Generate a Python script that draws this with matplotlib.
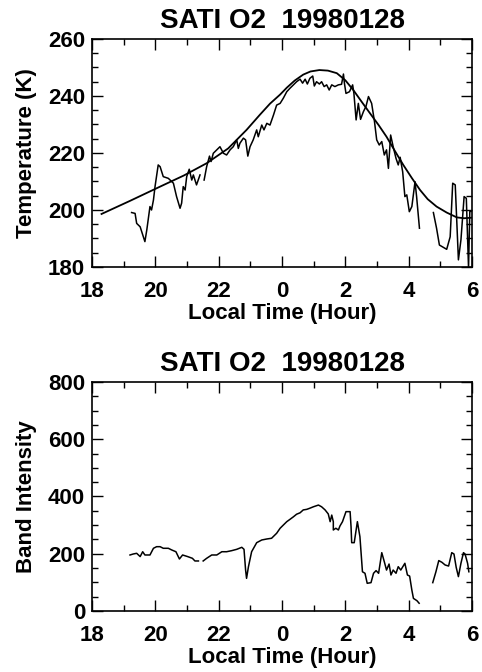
import matplotlib
matplotlib.use("Agg")
import matplotlib.pyplot as plt
import numpy as np
from matplotlib.ticker import MultipleLocator

# local time in hours after midnight of the first day (24 = 0 h, 30 = 6 h)
temp_time = [19.25, 19.36, 19.41, 19.52, 19.67, 19.73, 19.83, 19.88, 19.94, 19.99,
             20.09, 20.15, 20.25, 20.41, 20.57, 20.67, 20.78, 20.83, 20.88, 20.94,
             20.99, 21.07, 21.15, 21.2, 21.3, 21.41, np.nan,
             21.54, 21.62, 21.71, 21.76, 21.83, 21.94, 22.04, 22.15, 22.25, 22.36,
             22.46, 22.57, 22.62, 22.67, 22.78, 22.85, 22.92, 22.99, 23.09, 23.2,
             23.25, 23.36, 23.43, 23.52, 23.62, 23.73, 23.83, 23.94, 24.04, 24.15,
             24.25, 24.36, 24.46, 24.57, 24.65, 24.73, 24.8, 24.88, 24.97, 25.02,
             25.09, 25.18, 25.25, 25.33, 25.41, 25.49, 25.57, 25.67, 25.78, 25.88,
             25.94, 25.97, 26.02, 26.13, 26.23, 26.27, 26.34, 26.41, 26.48, 26.57,
             26.65, 26.73, 26.83, 26.92, 26.99, 27.07, 27.15, 27.23, 27.3, 27.36,
             27.43, 27.51, 27.6, 27.67, 27.73, 27.81, 27.88, 27.94, 28.02, 28.1,
             28.2, 28.25, 28.34, np.nan,
             28.78, 28.88, 28.97, 29.2, 29.31, 29.39, 29.47, 29.57, 29.65, 29.75,
             29.82, 29.89, 29.93, 30.0]
temp_vals = [199.1, 198.8, 195.3, 194.1, 188.9, 193.0, 201.2, 200.0, 203.5, 208.2,
             215.8, 215.2, 211.7, 211.1, 209.4, 204.7, 200.6, 202.4, 208.2, 207.0,
             211.7, 214.3, 210.5, 212.3, 208.8, 212.3, np.nan,
             210.5, 215.2, 218.9, 217.0, 219.9, 221.1, 222.2, 219.9, 219.3, 221.1,
             222.2, 224.6, 221.6, 223.4, 225.2, 224.6, 218.9, 222.2, 224.6, 228.1,
             225.7, 229.8, 228.1, 230.4, 229.8, 233.3, 236.8, 237.4, 239.2, 241.5,
             242.7, 243.9, 245.0, 245.9, 244.5, 245.9, 244.2, 246.2, 247.0, 243.5,
             245.0, 244.2, 245.0, 243.3, 243.9, 242.1, 243.9, 243.3, 243.9, 244.1,
             247.7, 244.5, 240.9, 241.5, 243.9, 240.9, 231.6, 237.4, 231.8, 234.5,
             236.3, 239.8, 237.4, 231.0, 224.6, 222.8, 224.0, 219.3, 221.1, 214.6,
             226.3, 222.2, 218.1, 215.8, 218.5, 213.4, 204.7, 205.3, 199.4, 201.2,
             209.9, 204.7, 193.6, np.nan,
             199.1, 193.6, 187.7, 186.2, 190.6, 209.4, 208.8, 182.5, 189.5, 204.7,
             204.1, 179.6, 199.5, 199.5]

fit_time = [18.3, 19.2, 20.15, 20.9, 21.62, 22.3, 22.88, 23.3, 23.62, 23.94, 24.15,
            24.4, 24.67, 24.9, 25.18, 25.45, 25.73, 26.0, 26.25, 26.5, 26.78, 27.05,
            27.3, 27.57, 27.83, 28.1, 28.36, 28.6, 28.88, 29.2, 29.52, 29.75, 30.0]
fit_vals = [198.6, 203.2, 208.2, 212.1, 216.4, 221.6, 228.1, 233.4, 237.3, 240.5, 242.9,
            245.4, 247.5, 248.6, 249.1, 248.9, 248.0, 245.5, 242.1, 238.2, 233.9, 229.8,
            225.7, 220.6, 215.8, 211.2, 207.0, 203.8, 201.2, 199.1, 197.4, 197.1, 197.3]

band_time = [19.2, 19.3, 19.41, 19.52, 19.6, 19.67, 19.83, 19.94, 20.04, 20.15, 20.25,
             20.41, 20.52, 20.65, 20.76, 20.86, 21.02, 21.17, 21.25, 21.36, np.nan,
             21.51, 21.62, 21.78, 21.94, 22.1, 22.25, 22.41, 22.57, 22.73, 22.8, 22.85,
             22.88, 22.94, 23.04, 23.2, 23.36, 23.52, 23.67, 23.83, 23.94, 24.04, 24.15,
             24.25, 24.36, 24.46, 24.57, 24.67, 24.78, 24.88, 24.99, 25.15, 25.25, 25.36,
             25.46, 25.52, 25.57, 25.62, 25.62, 25.7, 25.78, 25.83, 25.91, 26.02, 26.15,
             26.18, 26.2, 26.28, 26.38, 26.46, 26.54, 26.62, 26.69, 26.81, 26.89, 26.97,
             27.05, 27.15, 27.23, 27.3, 27.38, 27.44, 27.51, 27.6, 27.67, 27.75, 27.88,
             27.96, 28.03, 28.1, 28.15, 28.26, 28.33, np.nan,
             28.76, 28.86, 28.95, 29.05, 29.15, 29.26, 29.36, 29.43, 29.5, 29.57, 29.65,
             29.73, 29.78, 29.86, 29.9]
band_vals = [195.6, 199, 201.5, 190, 207, 195.6, 195.6, 219, 224.6, 224.6, 219,
             219, 213, 207, 181.6, 195.6, 190, 184, 174.7, 174.7, np.nan,
             174.7, 184, 195.6, 195.6, 207, 207, 210.7, 215.4, 222.4, 215.4, 143,
             114, 154.7, 207, 238.6, 248, 251.5, 254, 271.4, 289, 300, 312,
             320, 329, 338, 343, 353, 355, 359, 364, 370, 364, 353,
             339, 312, 335, 312, 283, 289, 283, 297, 312, 347, 347,
             294, 238.6, 238.6, 312, 259.5, 137, 131.7, 96.7, 99, 131.7, 141,
             131.7, 203.7, 172, 143, 164, 125.7, 143, 131.7, 154.7, 143, 166.6,
             125.7, 122, 73, 44, 36, 27, np.nan,
             99, 137, 176, 170, 160.7, 157, 203.7, 199, 152.6, 120, 166.6,
             203.7, 199, 166.6, 137]

xtick_pos = [18, 20, 22, 24, 26, 28, 30]
xtick_lab = ["18", "20", "22", "0", "2", "4", "6"]
title = "SATI O2  19980128"

plt.rcParams["font.family"] = ["Liberation Sans", "DejaVu Sans"]
plt.rcParams["font.weight"] = "bold"

fig = plt.figure(figsize=(4.82, 6.72), dpi=100)
ax1 = fig.add_axes([0.1909, 0.6027, 0.7884, 0.3393])
ax2 = fig.add_axes([0.1909, 0.0908, 0.7884, 0.3408])

fs = 16
for ax in (ax1, ax2):
    ax.set_xlim(18, 30)
    ax.set_xticks(xtick_pos)
    ax.set_xticklabels(xtick_lab, fontsize=fs, fontweight="bold")
    ax.xaxis.set_minor_locator(MultipleLocator(1))
    ax.tick_params(which="both", direction="in", top=True, right=True, width=1.0)
    ax.tick_params(which="major", length=8)
    ax.tick_params(axis="x", which="major", pad=10)
    ax.tick_params(axis="y", which="major", pad=5)
    ax.tick_params(which="minor", length=4)
    for s in ax.spines.values():
        s.set_linewidth(1.2)
    ax.set_xlabel("Local Time (Hour)", fontsize=fs, fontweight="bold", labelpad=1)
    ax.set_title(title, fontsize=20, fontweight="bold", pad=8)

ax1.plot(temp_time, temp_vals, color="black", lw=1.1)
ax1.plot(fit_time, fit_vals, color="black", lw=1.3)
ax1.set_ylim(180, 260)
ax1.set_yticks([180, 200, 220, 240, 260])
ax1.yaxis.set_minor_locator(MultipleLocator(5))
ax1.set_ylabel("Temperature (K)", fontsize=fs, fontweight="bold", labelpad=8)

ax2.plot(band_time, band_vals, color="black", lw=1.1)
ax2.set_ylim(0, 800)
ax2.set_yticks([0, 200, 400, 600, 800])
ax2.yaxis.set_minor_locator(MultipleLocator(50))
ax2.set_ylabel("Band Intensity", fontsize=fs, fontweight="bold", labelpad=8)

for ax in (ax1, ax2):
    for lab in ax.get_yticklabels():
        lab.set_fontsize(fs)
        lab.set_fontweight("bold")

fig.savefig("out.png", dpi=100)
